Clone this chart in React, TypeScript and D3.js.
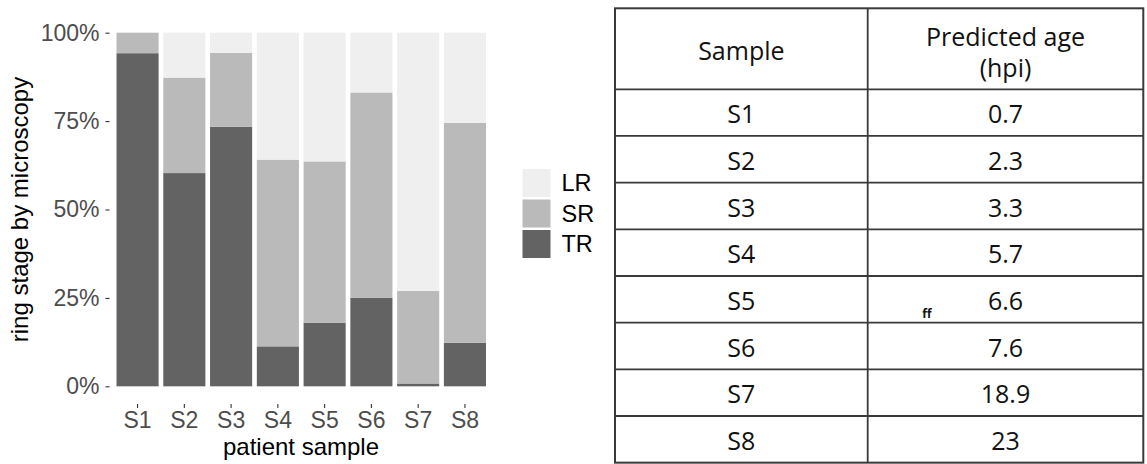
import React, { useEffect, useRef } from "react";
import * as d3 from "d3";

// bar chart data (percent of rings per stage)
const samples = ["S1", "S2", "S3", "S4", "S5", "S6", "S7", "S8"];
const stageKeys = ["TR", "SR", "LR"];
const trValues = [94.2, 60.3, 73.4, 11.3, 18.0, 25.0, 0.8, 12.3];
const srValues = [5.8, 27.0, 20.9, 52.8, 45.6, 58.1, 26.2, 62.2];
const lrValues = [0, 12.7, 5.7, 35.9, 36.4, 16.9, 73.0, 25.5];
const yTicks = [0, 0.25, 0.5, 0.75, 1];
const legendKeys = ["LR", "SR", "TR"];

// table data
const tableHeader = ["Sample", "Predicted age", "(hpi)"];
const tableSamples = ["S1", "S2", "S3", "S4", "S5", "S6", "S7", "S8"];
const predictedAge = ["0.7", "2.3", "3.3", "5.7", "6.6", "7.6", "18.9", "23"];

const colors: Record<string, string> = {
  TR: "#636363",
  SR: "#bababa",
  LR: "#efefef",
};

const W = 1147;
const H = 464;

const App = () => {
  const ref = useRef<SVGSVGElement>(null);

  useEffect(() => {
    const svg = d3.select(ref.current);
    svg.selectAll("*").remove();

    const rows = samples.map((s, i) => ({
      sample: s,
      TR: trValues[i] / 100,
      SR: srValues[i] / 100,
      LR: lrValues[i] / 100,
    }));

    const x = d3
      .scaleBand()
      .domain(samples)
      .range([109.5, 493])
      .paddingInner(0.1)
      .paddingOuter(0.15);
    const y = d3.scaleLinear().domain([-0.05, 1.05]).range([404, 15]);

    const stacked = d3.stack<any>().keys(stageKeys)(rows);

    const g = svg.append("g");
    g.selectAll("g.layer")
      .data(stacked)
      .join("g")
      .attr("class", "layer")
      .attr("fill", d => colors[d.key])
      .selectAll("rect")
      .data(d => d)
      .join("rect")
      .attr("x", d => x(d.data.sample)!)
      .attr("width", x.bandwidth())
      .attr("y", d => y(d[1]))
      .attr("height", d => Math.max(0, y(d[0]) - y(d[1])));

    const font = "'Liberation Sans', Arial, sans-serif";

    // y axis
    const yAxis = d3
      .axisLeft(y)
      .tickValues(yTicks)
      .tickFormat(d3.format(".0%"))
      .tickSize(4)
      .tickPadding(6);
    const ya = svg.append("g").attr("transform", "translate(109.5,0)").call(yAxis);
    ya.select(".domain").remove();
    ya.selectAll("line").attr("stroke", "#333333").attr("stroke-width", 1.1);
    ya.selectAll("text")
      .attr("fill", "#4d4d4d")
      .attr("font-size", 23)
      .attr("font-family", font);

    // x axis
    const xAxis = d3.axisBottom(x).tickSize(4).tickPadding(4);
    const xa = svg.append("g").attr("transform", "translate(0,404)").call(xAxis);
    xa.select(".domain").remove();
    xa.selectAll("line").attr("stroke", "#333333").attr("stroke-width", 1.1);
    xa.selectAll("text")
      .attr("fill", "#4d4d4d")
      .attr("font-size", 23)
      .attr("font-family", font);

    // axis titles
    svg
      .append("text")
      .attr("x", 301)
      .attr("y", 455)
      .attr("text-anchor", "middle")
      .attr("font-size", 24)
      .attr("font-family", font)
      .attr("fill", "black")
      .text("patient sample");

    svg
      .append("text")
      .attr("transform", "translate(28,209.5) rotate(-90)")
      .attr("text-anchor", "middle")
      .attr("font-size", 24)
      .attr("font-family", font)
      .attr("fill", "black")
      .text("ring stage by microscopy");

    // legend
    const lg = svg.append("g").attr("transform", "translate(522.5,169)");
    legendKeys.forEach((k, i) => {
      lg.append("rect")
        .attr("x", 0)
        .attr("y", i * 30.5)
        .attr("width", 28)
        .attr("height", 28)
        .attr("fill", colors[k]);
      lg.append("text")
        .attr("x", 39)
        .attr("y", i * 30.5 + 14)
        .attr("dy", "0.36em")
        .attr("font-size", 23.5)
        .attr("font-family", font)
        .attr("fill", "black")
        .text(k);
    });

    // table
    const tFont = "'Open Sans', 'Noto Sans', sans-serif";
    const tSize = 25;
    const tLeft = 615;
    const tMid = 867.7;
    const tRight = 1143.3;
    const tTop = 8.3;
    const headerBottom = 89.3;
    const rowH = 46.67;
    const tBottom = headerBottom + rowH * tableSamples.length;
    const lineColor = "#3a3a3a";
    const t = svg.append("g");

    t.append("rect")
      .attr("x", tLeft)
      .attr("y", tTop)
      .attr("width", tRight - tLeft)
      .attr("height", tBottom - tTop)
      .attr("fill", "none")
      .attr("stroke", lineColor)
      .attr("stroke-width", 2);
    t.append("line")
      .attr("x1", tMid)
      .attr("x2", tMid)
      .attr("y1", tTop)
      .attr("y2", tBottom)
      .attr("stroke", lineColor)
      .attr("stroke-width", 1.8);
    tableSamples.forEach((s, i) => {
      const top = headerBottom + i * rowH;
      t.append("line")
        .attr("x1", tLeft)
        .attr("x2", tRight)
        .attr("y1", top)
        .attr("y2", top)
        .attr("stroke", lineColor)
        .attr("stroke-width", 1.8);
      const cy = top + rowH / 2;
      t.append("text")
        .attr("x", (tLeft + tMid) / 2)
        .attr("y", cy)
        .attr("dy", "0.43em")
        .attr("text-anchor", "middle")
        .attr("font-size", tSize)
        .attr("font-family", tFont)
        .attr("fill", "#111")
        .text(s);
      t.append("text")
        .attr("x", (tMid + tRight) / 2)
        .attr("y", cy)
        .attr("dy", "0.43em")
        .attr("text-anchor", "middle")
        .attr("font-size", tSize)
        .attr("font-family", tFont)
        .attr("fill", "#111")
        .text(predictedAge[i]);
    });

    t.append("text")
      .attr("x", (tLeft + tMid) / 2)
      .attr("y", 60)
      .attr("text-anchor", "middle")
      .attr("font-size", tSize)
      .attr("font-family", tFont)
      .attr("fill", "#111")
      .text(tableHeader[0]);
    t.append("text")
      .attr("x", (tMid + tRight) / 2)
      .attr("y", 46)
      .attr("text-anchor", "middle")
      .attr("font-size", tSize)
      .attr("font-family", tFont)
      .attr("fill", "#111")
      .text(tableHeader[1]);
    t.append("text")
      .attr("x", (tMid + tRight) / 2)
      .attr("y", 77)
      .attr("text-anchor", "middle")
      .attr("font-size", tSize)
      .attr("font-family", tFont)
      .attr("fill", "#111")
      .text(tableHeader[2]);

    // stray "ff" mark in the S5 row
    t.append("text")
      .attr("x", 927)
      .attr("y", 318)
      .attr("text-anchor", "middle")
      .attr("font-size", 12)
      .attr("font-weight", "bold")
      .attr("font-family", tFont)
      .attr("fill", "#111")
      .text("ff");
  }, []);

  return (
    <div style={{ position: "absolute", left: 0, top: 0, width: W, height: H, background: "white" }}>
      <svg ref={ref} width={W} height={H} style={{ display: "block" }}></svg>
    </div>
  );
};

export default App;
